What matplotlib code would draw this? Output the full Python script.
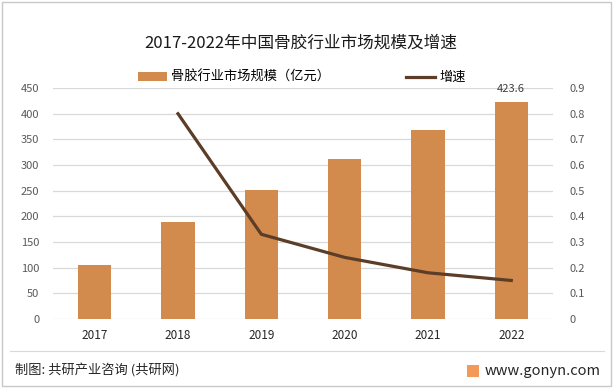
import matplotlib
matplotlib.use("Agg")
import matplotlib.pyplot as plt
from matplotlib.patches import Rectangle

plt.rcParams['font.family'] = ['Noto Sans CJK SC', 'DejaVu Sans']

years = ['2017', '2018', '2019', '2020', '2021', '2022']
scale = [105, 189, 251, 312, 368, 423.6]
growth = [None, 0.80, 0.33, 0.24, 0.18, 0.15]

bar_color = '#d38b4d'
line_color = '#5b3d28'
tick_color = '#595959'

fig = plt.figure(figsize=(6.13, 3.88), dpi=100)
ax = fig.add_axes([0.0865, 0.178, 0.8155, 0.595])
ax2 = ax.twinx()

x = list(range(len(years)))
ax.bar(x, scale, width=0.4, color=bar_color, zorder=2, label='骨胶行业市场规模（亿元）')
ax.set_ylim(0, 450)
ax.set_yticks(range(0, 451, 50))
ax.set_xlim(-0.5, len(years) - 0.5)
ax.set_xticks(x)
ax.set_xticklabels(years)
ax.grid(axis='y', color='#d9d9d9', linewidth=0.9, zorder=0)
ax.set_axisbelow(True)

gx = [i for i, g in zip(x, growth) if g is not None]
gy = [g for g in growth if g is not None]
ax2.plot(gx, gy, color=line_color, linewidth=2.3, label='增速', zorder=3)
ax2.set_ylim(0, 0.9)
ax2.set_yticks([i / 10 for i in range(10)])
ax2.set_yticklabels(['0'] + ['%.1f' % (i / 10) for i in range(1, 10)])

for a in (ax, ax2):
    for s in a.spines.values():
        s.set_visible(False)
    a.tick_params(length=0, labelsize=8, colors=tick_color)
ax.tick_params(axis='x', colors='#262626', labelsize=8.5, pad=7)
ax.tick_params(axis='y', pad=10)
ax2.tick_params(axis='y', pad=12)

ax.text(x[-1], scale[-1] + 14, '%.1f' % scale[-1], ha='center', va='bottom',
        fontsize=8, color='#404040')

h1, l1 = ax.get_legend_handles_labels()
h2, l2 = ax2.get_legend_handles_labels()
fig.legend(h1 + h2, l1 + l2, loc='center', bbox_to_anchor=(0.492, 0.8), ncol=2,
           frameon=False, fontsize=9.5, columnspacing=5.8, handlelength=2.2,
           handleheight=0.6, handletextpad=0.3)

fig.text(0.49, 0.89, '2017-2022年中国骨胶行业市场规模及增速', ha='center', va='center',
         fontsize=12, color='#1a1a1a')

fig.add_artist(plt.Line2D([0.016, 0.985], [0.095, 0.095], color='#d9d9d9',
                          linewidth=0.8, transform=fig.transFigure))
fig.text(0.024, 0.044, '制图: 共研产业咨询 (共研网)', ha='left', va='center',
         fontsize=9.5, color='#262626')
fig.text(0.979, 0.044, 'www.gonyn.com', ha='right', va='center',
         fontsize=10.5, color='#262626')
fig.add_artist(Rectangle((0.762, 0.028), 0.02, 0.03, transform=fig.transFigure,
                         facecolor='#f29a5a', edgecolor='none'))

fig.add_artist(Rectangle((0.004, 0.006), 0.992, 0.988, transform=fig.transFigure,
                         facecolor='none', edgecolor='#c8c8c8', linewidth=1))

fig.savefig('out.png', dpi=100)
